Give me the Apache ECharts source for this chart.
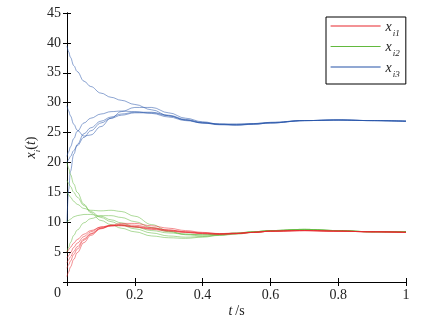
<!DOCTYPE html>
<html>
<head>
<meta charset="utf-8">
<script src="https://cdn.jsdelivr.net/npm/echarts@6/dist/echarts.min.js"></script>
<style>
  html, body { margin: 0; padding: 0; background: #fff; }
  #chart { width: 442px; height: 325px; }
</style>
</head>
<body>
<div id="chart"></div>
<script>
// Sample times (s) shared by every trajectory
const tSamples = [0, 0.005, 0.01, 0.02, 0.03, 0.05, 0.07, 0.1, 0.13, 0.16, 0.2, 0.25, 0.3, 0.35, 0.4, 0.45, 0.5, 0.55, 0.6, 0.7, 0.8, 0.9, 1.0];

// State x_i1 of the five agents
const x1Agent1 = [0.9, 1.7, 2.5, 3.8, 4.9, 6.6, 7.8, 8.9, 9.4, 9.6, 9.5, 9.1, 8.7, 8.4, 8.2, 8.1, 8.2, 8.3, 8.5, 8.6, 8.5, 8.4, 8.3];
const x1Agent2 = [2.3, 2.9, 3.5, 4.6, 5.5, 7.0, 8.0, 9.0, 9.5, 9.8, 9.8, 9.4, 9.0, 8.6, 8.3, 8.1, 8.1, 8.3, 8.5, 8.6, 8.5, 8.4, 8.3];
const x1Agent3 = [3.2, 3.7, 4.2, 5.1, 5.9, 7.2, 8.1, 9.0, 9.4, 9.5, 9.3, 9.0, 8.7, 8.4, 8.2, 8.0, 8.1, 8.3, 8.5, 8.6, 8.5, 8.4, 8.3];
const x1Agent4 = [4.0, 4.4, 4.9, 5.8, 6.5, 7.6, 8.4, 9.2, 9.5, 9.5, 9.2, 8.8, 8.5, 8.3, 8.1, 8.0, 8.1, 8.3, 8.5, 8.6, 8.5, 8.4, 8.3];
const x1Agent5 = [5.0, 5.4, 5.8, 6.5, 7.1, 8.0, 8.6, 9.2, 9.4, 9.4, 9.2, 8.9, 8.6, 8.3, 8.1, 8.0, 8.1, 8.3, 8.5, 8.6, 8.5, 8.4, 8.3];

// State x_i2 of the five agents
const x2Agent1 = [20.0, 19.0, 18.0, 16.4, 15.0, 13.0, 11.6, 10.3, 9.6, 9.0, 8.4, 7.7, 7.4, 7.3, 7.5, 7.8, 8.1, 8.4, 8.6, 8.8, 8.6, 8.4, 8.4];
const x2Agent2 = [15.0, 14.6, 14.2, 13.5, 13.0, 12.3, 12.0, 11.9, 12.0, 11.8, 11.0, 9.6, 8.5, 7.9, 7.7, 7.8, 8.0, 8.3, 8.5, 8.8, 8.6, 8.4, 8.4];
const x2Agent3 = [10.0, 10.3, 10.5, 10.9, 11.1, 11.3, 11.3, 11.0, 10.4, 9.9, 9.2, 8.6, 8.2, 8.0, 7.9, 8.0, 8.2, 8.4, 8.6, 8.8, 8.6, 8.4, 8.4];
const x2Agent4 = [5.0, 5.8, 6.6, 7.8, 8.7, 9.9, 10.6, 11.1, 11.1, 10.8, 10.1, 9.1, 8.4, 8.0, 7.9, 8.0, 8.2, 8.4, 8.6, 8.8, 8.6, 8.4, 8.4];
const x2Agent5 = [17.0, 16.5, 16.0, 15.0, 14.2, 12.8, 11.8, 10.8, 10.1, 9.5, 8.9, 8.2, 7.7, 7.5, 7.6, 7.9, 8.1, 8.4, 8.6, 8.8, 8.6, 8.4, 8.4];

// State x_i3 of the five agents
const x3Agent1 = [39.5, 38.5, 37.6, 36.2, 35.2, 33.6, 32.7, 31.6, 30.9, 30.4, 29.7, 28.8, 27.8, 27.1, 26.6, 26.4, 26.4, 26.5, 26.7, 27.0, 27.1, 27.0, 26.9];
const x3Agent2 = [29.5, 28.6, 27.8, 26.4, 25.4, 24.4, 24.6, 26.0, 27.4, 28.5, 29.2, 29.2, 28.3, 27.4, 26.8, 26.4, 26.3, 26.4, 26.6, 27.0, 27.1, 27.0, 26.9];
const x3Agent3 = [21.0, 21.8, 22.6, 24.0, 25.2, 26.6, 27.4, 28.1, 28.5, 28.6, 28.5, 28.2, 27.6, 27.0, 26.6, 26.4, 26.4, 26.5, 26.7, 27.0, 27.1, 27.0, 26.9];
const x3Agent4 = [20.0, 20.5, 21.0, 22.0, 22.8, 24.2, 25.3, 26.6, 27.4, 27.9, 28.3, 28.3, 27.8, 27.1, 26.6, 26.3, 26.2, 26.4, 26.6, 27.0, 27.1, 27.0, 26.9];
const x3Agent5 = [10.0, 15.5, 18.5, 21.4, 23.0, 24.8, 25.8, 26.9, 27.6, 28.1, 28.4, 28.4, 27.9, 27.2, 26.7, 26.4, 26.3, 26.4, 26.6, 27.0, 27.1, 27.0, 26.9];

// Axis tick labels
const xTickLabels = ['0', '0.2', '0.4', '0.6', '0.8', '1'];
const yTickLabels = ['0', '5', '10', '15', '20', '25', '30', '35', '40', '45'];

const stateGroups = [
  { name: 'x_i1', color: '#e8262d', agents: [x1Agent1, x1Agent2, x1Agent3, x1Agent4, x1Agent5] },
  { name: 'x_i2', color: '#62b93e', agents: [x2Agent1, x2Agent2, x2Agent3, x2Agent4, x2Agent5] },
  { name: 'x_i3', color: '#2452a8', agents: [x3Agent1, x3Agent2, x3Agent3, x3Agent4, x3Agent5] }
];

const SERIF = 'Liberation Serif, serif';
const TXT = '#222';

const series = [];
stateGroups.slice().reverse().forEach(g => {
  g.agents.forEach(vals => {
    series.push({
      name: g.name,
      type: 'line',
      data: tSamples.map((t, i) => [t, vals[i]]),
      showSymbol: false,
      symbol: 'none',
      smooth: 0.4,
      smoothMonotone: 'x',
      silent: true,
      color: g.color,
      lineStyle: { color: g.color, width: 0.7, opacity: 0.75 }
    });
  });
});

const tickStyle = { show: true, inside: true, length: 4, lineStyle: { color: '#000', width: 1 } };
const lineStyleBlack = { show: true, lineStyle: { color: '#000', width: 1 } };
const numRich = { n: { fontFamily: SERIF, fontSize: 14, color: TXT } };

const chart = echarts.init(document.getElementById('chart'), null, { renderer: 'canvas' });
chart.setOption({
  animation: false,
  backgroundColor: '#fff',
  textStyle: { fontFamily: SERIF },
  grid: { left: 67, right: 36, top: 13, bottom: 43, containLabel: false },
  legend: {
    left: 326,
    top: 17,
    orient: 'vertical',
    data: stateGroups.map(g => g.name),
    backgroundColor: '#fff',
    borderColor: '#000',
    borderWidth: 1,
    padding: [3, 6, 5, 4],
    itemGap: 2.5,
    itemWidth: 50,
    itemHeight: 14,
    itemStyle: { opacity: 0 },
    lineStyle: { width: 1.2, opacity: 1 },
    formatter: name => '{x|x}{s|' + name.split('_')[1] + '}',
    textStyle: {
      color: TXT,
      rich: {
        x: { fontFamily: SERIF, fontStyle: 'italic', fontSize: 14, verticalAlign: 'bottom', lineHeight: 16 },
        s: { fontFamily: SERIF, fontStyle: 'italic', fontSize: 9, verticalAlign: 'bottom', lineHeight: 12, padding: [0, 0, -4, 1] }
      }
    }
  },
  xAxis: [
    {
      type: 'value', min: 0, max: 1, interval: 0.2, position: 'bottom',
      axisLine: lineStyleBlack, axisTick: tickStyle, splitLine: { show: false },
      axisLabel: {
        margin: 6, color: TXT, fontFamily: SERIF, fontSize: 14,
        formatter: (v) => { const i = Math.round(v / 0.2); return i === 0 ? '' : '{n|' + xTickLabels[i] + '}'; },
        rich: numRich
      },
      name: '{t|t} {u|/s}', nameLocation: 'middle', nameGap: 22, nameMoveOverlap: false,
      nameTextStyle: {
        color: TXT,
        rich: {
          t: { fontFamily: SERIF, fontStyle: 'italic', fontSize: 14 },
          u: { fontFamily: SERIF, fontSize: 14 }
        }
      }
    },
    {
      type: 'value', min: 0, max: 1, interval: 0.2, position: 'top',
      axisLine: lineStyleBlack, axisTick: tickStyle, axisLabel: { show: false }, splitLine: { show: false }
    }
  ],
  yAxis: [
    {
      type: 'value', min: 0, max: 45, interval: 5, position: 'left',
      axisLine: lineStyleBlack, axisTick: tickStyle, splitLine: { show: false },
      axisLabel: {
        margin: 6, color: TXT, fontFamily: SERIF, fontSize: 14,
        formatter: (v) => { const i = Math.round(v / 5); return i === 0 ? '{z|' + yTickLabels[0] + '}' : '{n|' + yTickLabels[i] + '}'; },
        rich: { n: numRich.n, z: { fontFamily: SERIF, fontSize: 14, color: TXT, padding: [22, 0, 0, 0] } }
      },
      name: '{x|x}{s|i}{p|(}{t|t}{p|)}', nameLocation: 'middle', nameGap: 29, nameRotate: 90, nameMoveOverlap: false,
      nameTextStyle: {
        color: TXT,
        rich: {
          x: { fontFamily: SERIF, fontStyle: 'italic', fontSize: 14, verticalAlign: 'bottom', lineHeight: 16 },
          s: { fontFamily: SERIF, fontStyle: 'italic', fontSize: 9, verticalAlign: 'bottom', lineHeight: 12, padding: [0, 0, -4, 0] },
          p: { fontFamily: SERIF, fontSize: 14, verticalAlign: 'bottom', lineHeight: 16 },
          t: { fontFamily: SERIF, fontStyle: 'italic', fontSize: 14, verticalAlign: 'bottom', lineHeight: 16 }
        }
      }
    },
    {
      type: 'value', min: 0, max: 45, interval: 5, position: 'right',
      axisLine: lineStyleBlack, axisTick: tickStyle, axisLabel: { show: false }, splitLine: { show: false }
    }
  ],
  series: series
});
</script>
</body>
</html>
